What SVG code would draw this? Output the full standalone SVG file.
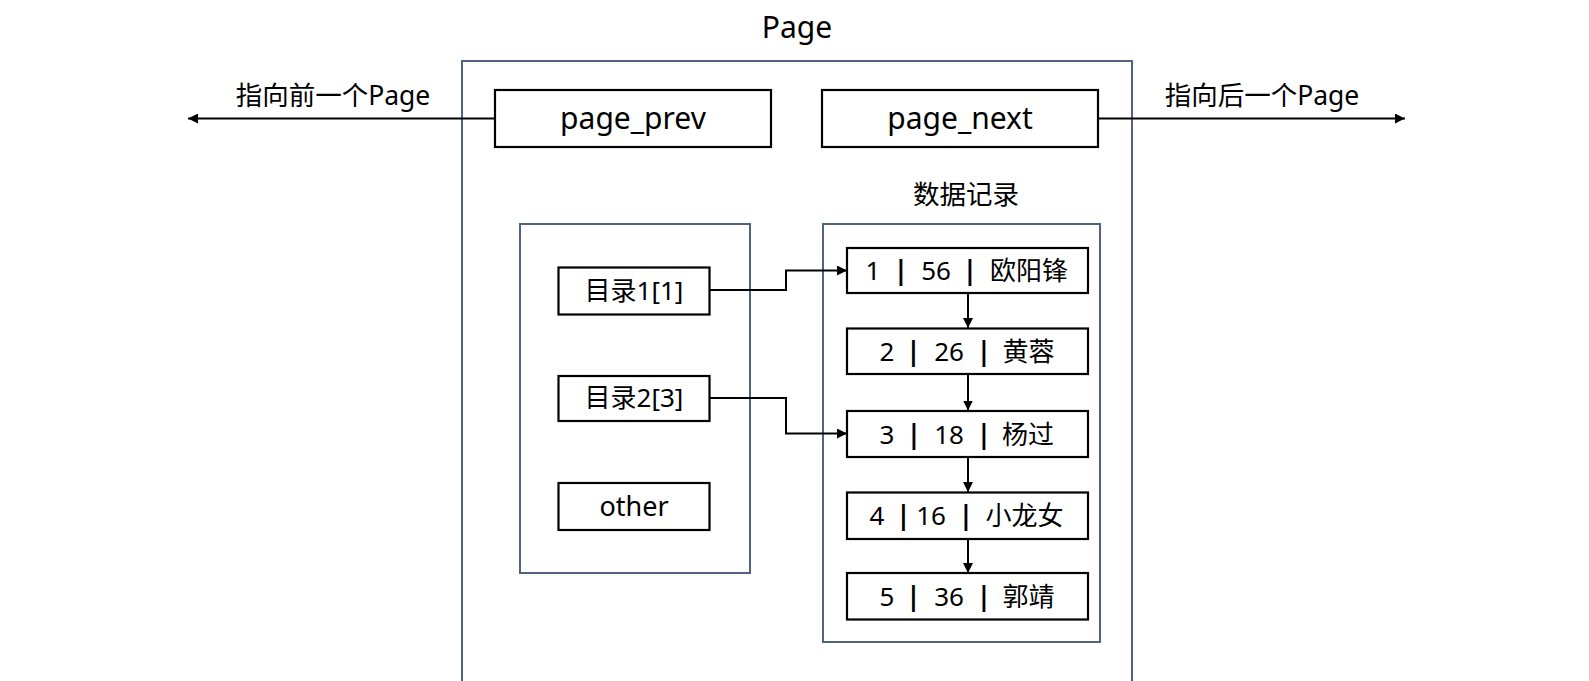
<svg xmlns="http://www.w3.org/2000/svg" width="1589" height="681" viewBox="0 0 1589 681">
<style>
text{font-family:"Noto Sans","Noto Sans CJK SC",sans-serif;fill:#000;text-anchor:middle;dominant-baseline:central}
.frame{fill:none;stroke:#53627e;stroke-width:2}
.box{fill:#fff;stroke:#000;stroke-width:2.2}
.conn{fill:none;stroke:#000;stroke-width:2}
.rec{font-size:26px}
.bar{font-weight:bold}
</style>
<defs>
<marker id="ah" viewBox="0 0 10 10" refX="10" refY="5" markerWidth="10" markerHeight="10" markerUnits="userSpaceOnUse" orient="auto">
<path d="M0,0 L10,5 L0,10 z" fill="#000"/>
</marker>
</defs>
<rect width="1589" height="681" fill="#fff"/>
<text x="797" y="26" font-size="30">Page</text>
<g id="page"><rect class="frame" x="462" y="61" width="670" height="640"/></g>
<g id="dirs"><rect class="frame" x="520" y="224" width="230" height="349"/></g>
<g id="records"><rect class="frame" x="823" y="224" width="277" height="418"/>
<text x="966" y="194" font-size="26.5">数据记录</text></g>
<g id="connectors">
<path class="conn" d="M495,118.5 H188" marker-end="url(#ah)"/>
<path class="conn" d="M1098,118.5 H1405" marker-end="url(#ah)"/>
<path class="conn" d="M710,290 H786 V270.5 H847" marker-end="url(#ah)"/>
<path class="conn" d="M710,398 H786 V433.5 H847" marker-end="url(#ah)"/>
<path class="conn" d="M968,293 V328" marker-end="url(#ah)"/>
<path class="conn" d="M968,374 V410.5" marker-end="url(#ah)"/>
<path class="conn" d="M968,457 V492" marker-end="url(#ah)"/>
<path class="conn" d="M968,539 V573" marker-end="url(#ah)"/>
</g>
<g id="label_prev"><text x="333" y="95" font-size="26.5">指向前一个Page</text></g>
<g id="label_next"><text x="1262" y="95" font-size="26.5">指向后一个Page</text></g>
<g id="page_prev"><rect class="box" x="495" y="90" width="276" height="57"/><text x="633" y="117.5" font-size="30">page_prev</text></g>
<g id="page_next"><rect class="box" x="822" y="90" width="276" height="57"/><text x="960" y="117.5" font-size="30">page_next</text></g>
<g id="dir1"><rect class="box" x="558.5" y="267.5" width="151" height="47"/><text x="634" y="290" font-size="26">目录1[1]</text></g>
<g id="dir2"><rect class="box" x="558.5" y="376" width="151" height="45"/><text x="634" y="397" font-size="26">目录2[3]</text></g>
<g id="other"><rect class="box" x="558.5" y="483" width="151" height="47"/><text x="634" y="505" font-size="27">other</text></g>
<g id="rec1"><rect class="box" x="847" y="248" width="241" height="45"/><text class="rec" y="270"><tspan x="873">1</tspan><tspan x="901" class="bar">|</tspan><tspan x="936">56</tspan><tspan x="970" class="bar">|</tspan><tspan x="1029">欧阳锋</tspan></text></g>
<g id="rec2"><rect class="box" x="847" y="328.5" width="241" height="45.5"/><text class="rec" y="350.5"><tspan x="887">2</tspan><tspan x="913.5" class="bar">|</tspan><tspan x="949">26</tspan><tspan x="984" class="bar">|</tspan><tspan x="1028.5">黄蓉</tspan></text></g>
<g id="rec3"><rect class="box" x="847" y="411" width="241" height="46"/><text class="rec" y="433.5"><tspan x="887">3</tspan><tspan x="914" class="bar">|</tspan><tspan x="949">18</tspan><tspan x="984" class="bar">|</tspan><tspan x="1028">杨过</tspan></text></g>
<g id="rec4"><rect class="box" x="847" y="492.5" width="241" height="46.5"/><text class="rec" y="515"><tspan x="877">4</tspan><tspan x="903.5" class="bar">|</tspan><tspan x="931">16</tspan><tspan x="966" class="bar">|</tspan><tspan x="1024.5">小龙女</tspan></text></g>
<g id="rec5"><rect class="box" x="847" y="573" width="241" height="46.5"/><text class="rec" y="595.5"><tspan x="887">5</tspan><tspan x="913.5" class="bar">|</tspan><tspan x="949">36</tspan><tspan x="984" class="bar">|</tspan><tspan x="1028.5">郭靖</tspan></text></g>
</svg>
